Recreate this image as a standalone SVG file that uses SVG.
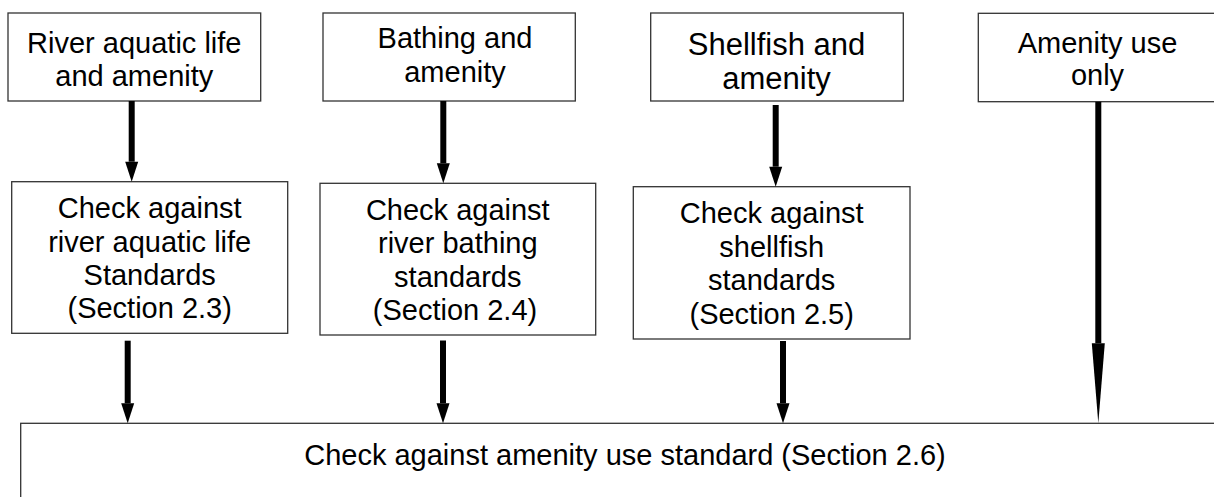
<svg xmlns="http://www.w3.org/2000/svg" width="1214" height="497" viewBox="0 0 1214 497">
<style>
.box{fill:#fff;stroke:#333;stroke-width:1.3}
.t{font-family:"Liberation Sans",Arial,sans-serif;font-size:29px;fill:#000;text-anchor:middle}
.big{font-size:31px}
.arr{stroke:#000;stroke-width:6;fill:none}
</style>
<defs>
<marker id="head" markerUnits="userSpaceOnUse" markerWidth="20" markerHeight="13" viewBox="0 -6.5 20 13" refX="0" refY="0" orient="auto" overflow="visible">
<path d="M0,-6.5 L20,0 L0,6.5 Z" fill="#000"/>
</marker>
<marker id="longhead" markerUnits="userSpaceOnUse" markerWidth="80" markerHeight="13" viewBox="0 -6.5 80 13" refX="0" refY="0" orient="auto" overflow="visible">
<path d="M0,-6.5 L80,0 L0,6.5 Z" fill="#000"/>
</marker>
</defs>
<rect width="1214" height="497" fill="#fff"/>
<g id="n1">
<rect class="box" x="8" y="13" width="252.7" height="88"/>
<text class="t" x="134.3" y="52.7">River aquatic life</text>
<text class="t" x="134.3" y="86">and amenity</text>
</g>
<g id="n2">
<rect class="box" x="323" y="13" width="252.3" height="88"/>
<text class="t" x="455" y="48.3">Bathing and</text>
<text class="t" x="455" y="81.7">amenity</text>
</g>
<g id="n3">
<rect class="box" x="650.7" y="13" width="252.6" height="88"/>
<text class="t big" x="776.5" y="55">Shellfish and</text>
<text class="t big" x="776.5" y="89.3">amenity</text>
</g>
<g id="n4">
<rect class="box" x="978.3" y="13.3" width="260" height="88.4"/>
<text class="t" x="1097.5" y="53.3">Amenity use</text>
<text class="t" x="1097.5" y="85">only</text>
</g>
<g id="n5">
<rect class="box" x="11.7" y="181.7" width="276" height="151.6"/>
<text class="t" x="149.7" y="218.3">Check against</text>
<text class="t" x="149.7" y="251.7">river aquatic life</text>
<text class="t" x="149.7" y="285">Standards</text>
<text class="t" x="149.7" y="318.3">(Section 2.3)</text>
</g>
<g id="n6">
<rect class="box" x="320" y="183.3" width="275.7" height="151.7"/>
<text class="t" x="457.8" y="220">Check against</text>
<text class="t" x="457.8" y="253.3">river bathing</text>
<text class="t" x="457.8" y="286.7">standards</text>
<text class="t" x="455" y="320">(Section 2.4)</text>
</g>
<g id="n7">
<rect class="box" x="633.3" y="186.7" width="276.7" height="152.3"/>
<text class="t" x="771.7" y="222.7">Check against</text>
<text class="t" x="771.7" y="256.7">shellfish</text>
<text class="t" x="771.7" y="290">standards</text>
<text class="t" x="771.7" y="324">(Section 2.5)</text>
</g>
<g id="n8">
<rect class="box" x="20.7" y="423.3" width="1220" height="90"/>
<text class="t" x="625" y="465">Check against amenity use standard (Section 2.6)</text>
</g>
<g id="connectors">
<line class="arr" x1="131.7" y1="101" x2="131.7" y2="161.7" marker-end="url(#head)"/>
<line class="arr" x1="443.3" y1="101" x2="443.3" y2="163.3" marker-end="url(#head)"/>
<line class="arr" x1="775.7" y1="105" x2="775.7" y2="166.7" marker-end="url(#head)"/>
<line class="arr" x1="1098.3" y1="101.7" x2="1098.3" y2="343.3" marker-end="url(#longhead)"/>
<line class="arr" x1="127.7" y1="340.7" x2="127.7" y2="403.3" marker-end="url(#head)"/>
<line class="arr" x1="443" y1="340.5" x2="443" y2="403.3" marker-end="url(#head)"/>
<line class="arr" x1="783" y1="341" x2="783" y2="403.3" marker-end="url(#head)"/>
</g>
</svg>
